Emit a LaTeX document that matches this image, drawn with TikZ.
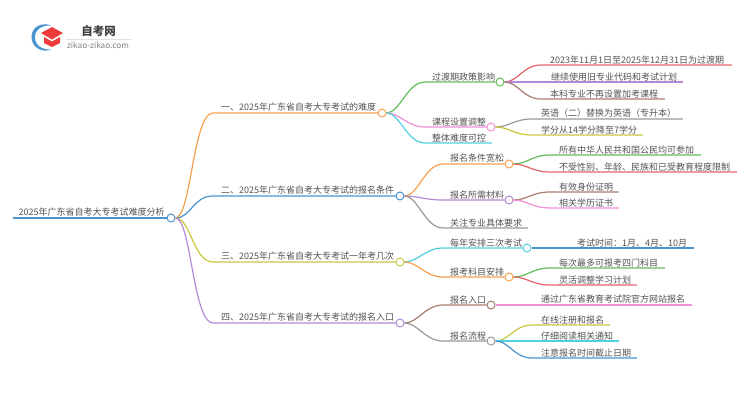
\documentclass[tikz,border=0pt]{standalone}
\usepackage{fontspec}
\setmainfont{Noto Sans CJK SC}
\usepackage{xcolor}
\definecolor{lineblue}{HTML}{4A94CE}
\definecolor{lineorange}{HTML}{F9A04F}
\definecolor{lineolive}{HTML}{C9C840}
\definecolor{linepurple}{HTML}{B389D8}
\definecolor{linegreen}{HTML}{62BD57}
\definecolor{linepink}{HTML}{F08FD8}
\definecolor{linecyan}{HTML}{4FD0E2}
\definecolor{linered}{HTML}{E4636A}
\definecolor{linebrown}{HTML}{A97C70}
\definecolor{linegray}{HTML}{9A9A9A}
\definecolor{logored}{HTML}{EE3B3B}
\tikzset{
  branch/.style={line width=1.2pt},
  dot/.style={circle,draw,fill=white,line width=1pt,inner sep=0pt,minimum size=8pt},
  label/.style={anchor=south west,inner sep=0pt,text=black!68,font=\fontsize{9}{9}\selectfont},
  tip/.style={inner sep=0pt,minimum size=0pt}
}
\begin{document}
\begin{tikzpicture}[x=1pt,y=-1pt]
  \useasboundingbox (0,0) rectangle (750,410);
  %logo
  \fill[lineblue] (51,25.5) .. controls (43,22) and (31.5,26) .. (31.5,37) .. controls (31.5,48) and (43,53) .. (51,49.5) .. controls (43,50) and (35,46) .. (35,37) .. controls (35,29) and (43,25) .. (51,25.5) -- cycle;
  \fill[logored] (52,27) -- (63,33) -- (52,39.5) -- (41,33) -- cycle;
  \fill[logored] (44,37) -- (52,41.5) -- (60,37) -- (60,43) -- (52,47) -- (44,43) -- cycle;
  \node[anchor=center,inner sep=0pt,text=black!75,font=\fontsize{11.5}{11.5}\selectfont\bfseries] (logotitle) at (98.5,31) {自考网};
  \node[anchor=center,inner sep=0pt,text=black!50,font=\fontsize{8.2}{8.2}\selectfont] (logourl) at (98,45) {zikao-zikao.com};
  \draw[black!12,line width=.5pt] (66,39) -- (131,39);

  %root
  \coordinate (rootstart) at (13,218);
  \node[dot,draw=lineblue] (root) at (171,218) {};
  \node[label] (roottext) at (18.5,217) {2025年广东省自考大专考试难度分析};
  \draw[branch,lineblue] (rootstart) -- (root);

  %first level
  \node[dot,draw=lineorange] (one) at (382,113) {};
  \node[dot,draw=lineblue] (two) at (400,196) {};
  \node[dot,draw=lineolive] (three) at (400,262) {};
  \node[dot,draw=linepurple] (four) at (400,323) {};
  \coordinate (onestart) at (213,113);
  \coordinate (twostart) at (213,196);
  \coordinate (threestart) at (213,262);
  \coordinate (fourstart) at (213,323);
  \node[label] (onetext) at (221,112) {一、2025年广东省自考大专考试的难度};
  \node[label] (twotext) at (221,195) {二、2025年广东省自考大专考试的报名条件};
  \node[label] (threetext) at (221,261) {三、2025年广东省自考大专考试一年考几次};
  \node[label] (fourtext) at (221,322) {四、2025年广东省自考大专考试的报名入口};
  \draw[branch,lineorange] (root) .. controls +(20,0) and +(-20,0) .. (onestart) -- (one);
  \draw[branch,lineblue] (root) .. controls +(20,0) and +(-20,0) .. (twostart) -- (two);
  \draw[branch,lineolive] (root) .. controls +(20,0) and +(-20,0) .. (threestart) -- (three);
  \draw[branch,linepurple] (root) .. controls +(20,0) and +(-20,0) .. (fourstart) -- (four);

  %second level
  \node[dot,draw=linegreen] (policy) at (500,82) {};
  \node[dot,draw=linepink] (course) at (491,127) {};
  \node[tip] (overall) at (492,143) {};
  \node[dot,draw=lineorange] (require) at (509,164) {};
  \node[dot,draw=linepurple] (material) at (509,200) {};
  \node[tip] (major) at (528,228) {};
  \node[dot,draw=linecyan] (yearly) at (527,248) {};
  \node[dot,draw=lineorange] (subject) at (509,277) {};
  \node[dot,draw=linebrown] (entry) at (491,305) {};
  \node[dot,draw=linegray] (process) at (491,341) {};
  \coordinate (policystart) at (425,82);
  \coordinate (coursestart) at (425,127);
  \coordinate (overallstart) at (425,143);
  \coordinate (requirestart) at (443,164);
  \coordinate (materialstart) at (443,200);
  \coordinate (majorstart) at (443,228);
  \coordinate (yearlystart) at (443,248);
  \coordinate (subjectstart) at (443,277);
  \coordinate (entrystart) at (443,305);
  \coordinate (processstart) at (443,341);
  \node[label] (policytext) at (432,81) {过渡期政策影响};
  \node[label] (coursetext) at (432,126) {课程设置调整};
  \node[label] (overalltext) at (432,142) {整体难度可控};
  \node[label] (requiretext) at (450,163) {报名条件宽松};
  \node[label] (materialtext) at (450,199) {报名所需材料};
  \node[label] (majortext) at (450,227) {关注专业具体要求};
  \node[label] (yearlytext) at (450,247) {每年安排三次考试};
  \node[label] (subjecttext) at (450,276) {报考科目安排};
  \node[label] (entrytext) at (450,304) {报名入口};
  \node[label] (processtext) at (450,340) {报名流程};
  \draw[branch,linegreen] (one) .. controls +(18,0) and +(-18,0) .. (policystart) -- (policy);
  \draw[branch,linepink] (one) .. controls +(18,0) and +(-18,0) .. (coursestart) -- (course);
  \draw[branch,linecyan] (one) .. controls +(18,0) and +(-18,0) .. (overallstart) -- (overall);
  \draw[branch,lineorange] (two) .. controls +(18,0) and +(-18,0) .. (requirestart) -- (require);
  \draw[branch,linepurple] (two) .. controls +(18,0) and +(-18,0) .. (materialstart) -- (material);
  \draw[branch,linegray] (two) .. controls +(18,0) and +(-18,0) .. (majorstart) -- (major);
  \draw[branch,linecyan] (three) .. controls +(18,0) and +(-18,0) .. (yearlystart) -- (yearly);
  \draw[branch,lineorange] (three) .. controls +(18,0) and +(-18,0) .. (subjectstart) -- (subject);
  \draw[branch,linebrown] (four) .. controls +(18,0) and +(-18,0) .. (entrystart) -- (entry);
  \draw[branch,linegray] (four) .. controls +(18,0) and +(-18,0) .. (processstart) -- (process);

  %third level
  \node[tip] (transit) at (732,65) {};
  \node[tip] (oldcode) at (683,82) {};
  \node[tip] (nomore) at (665,99) {};
  \node[tip] (english) at (683,119) {};
  \node[tip] (credit) at (643,135) {};
  \node[tip] (citizen) at (701,155) {};
  \node[tip] (nolimit) at (737,172) {};
  \node[tip] (idcard) at (619,192) {};
  \node[tip] (diploma) at (619,208) {};
  \node[tip] (examtime) at (694,248) {};
  \node[tip] (fourmax) at (665,268) {};
  \node[tip] (adjust) at (637,285) {};
  \node[tip] (website) at (692,305) {};
  \node[tip] (online) at (610,325) {};
  \node[tip] (notice) at (619,341) {};
  \node[tip] (deadline) at (637,358) {};
  \coordinate (transitstart) at (541,65);
  \coordinate (nomorestart) at (541,99);
  \coordinate (englishstart) at (532,119);
  \coordinate (creditstart) at (532,135);
  \coordinate (citizenstart) at (550,155);
  \coordinate (nolimitstart) at (550,172);
  \coordinate (idcardstart) at (550,192);
  \coordinate (diplomastart) at (550,208);
  \coordinate (fourmaxstart) at (550,268);
  \coordinate (adjuststart) at (550,285);
  \coordinate (onlinestart) at (532,325);
  \coordinate (deadlinestart) at (532,358);
  \node[label] (transittext) at (550,64) {2023年11月1日至2025年12月31日为过渡期};
  \node[label] (oldcodetext) at (551,81) {继续使用旧专业代码和考试计划};
  \node[label] (nomoretext) at (550,98) {本科专业不再设置加考课程};
  \node[label] (englishtext) at (541,118) {英语（二）替换为英语（专升本）};
  \node[label] (credittext) at (541,134) {学分从14学分降至7学分};
  \node[label] (citizentext) at (559,154) {所有中华人民共和国公民均可参加};
  \node[label] (nolimittext) at (559,171) {不受性别、年龄、民族和已受教育程度限制};
  \node[label] (idcardtext) at (559,191) {有效身份证明};
  \node[label] (diplomatext) at (559,207) {相关学历证书};
  \node[label] (examtimetext) at (577,247) {考试时间：1月、4月、10月};
  \node[label] (fourmaxtext) at (559,267) {每次最多可报考四门科目};
  \node[label] (adjusttext) at (559,284) {灵活调整学习计划};
  \node[label] (websitetext) at (541,304) {通过广东省教育考试院官方网站报名};
  \node[label] (onlinetext) at (541,324) {在线注册和报名};
  \node[label] (noticetext) at (541,340) {仔细阅读相关通知};
  \node[label] (deadlinetext) at (541,357) {注意报名时间截止日期};
  \draw[branch,linered] (policy) .. controls +(18,0) and +(-18,0) .. (transitstart) -- (transit);
  \draw[branch,linepurple] (policy) -- (oldcode);
  \draw[branch,linebrown] (policy) .. controls +(18,0) and +(-18,0) .. (nomorestart) -- (nomore);
  \draw[branch,linegray] (course) .. controls +(18,0) and +(-18,0) .. (englishstart) -- (english);
  \draw[branch,lineolive] (course) .. controls +(18,0) and +(-18,0) .. (creditstart) -- (credit);
  \draw[branch,linegreen] (require) .. controls +(18,0) and +(-18,0) .. (citizenstart) -- (citizen);
  \draw[branch,linered] (require) .. controls +(18,0) and +(-18,0) .. (nolimitstart) -- (nolimit);
  \draw[branch,linebrown] (material) .. controls +(18,0) and +(-18,0) .. (idcardstart) -- (idcard);
  \draw[branch,linepink] (material) .. controls +(18,0) and +(-18,0) .. (diplomastart) -- (diploma);
  \draw[branch,lineblue] (yearly) -- (examtime);
  \draw[branch,linegreen] (subject) .. controls +(18,0) and +(-18,0) .. (fourmaxstart) -- (fourmax);
  \draw[branch,linered] (subject) .. controls +(18,0) and +(-18,0) .. (adjuststart) -- (adjust);
  \draw[branch,linepink] (entry) -- (website);
  \draw[branch,lineolive] (process) .. controls +(18,0) and +(-18,0) .. (onlinestart) -- (online);
  \draw[branch,linecyan] (process) -- (notice);
  \draw[branch,lineblue] (process) .. controls +(18,0) and +(-18,0) .. (deadlinestart) -- (deadline);
\end{tikzpicture}
\end{document}
